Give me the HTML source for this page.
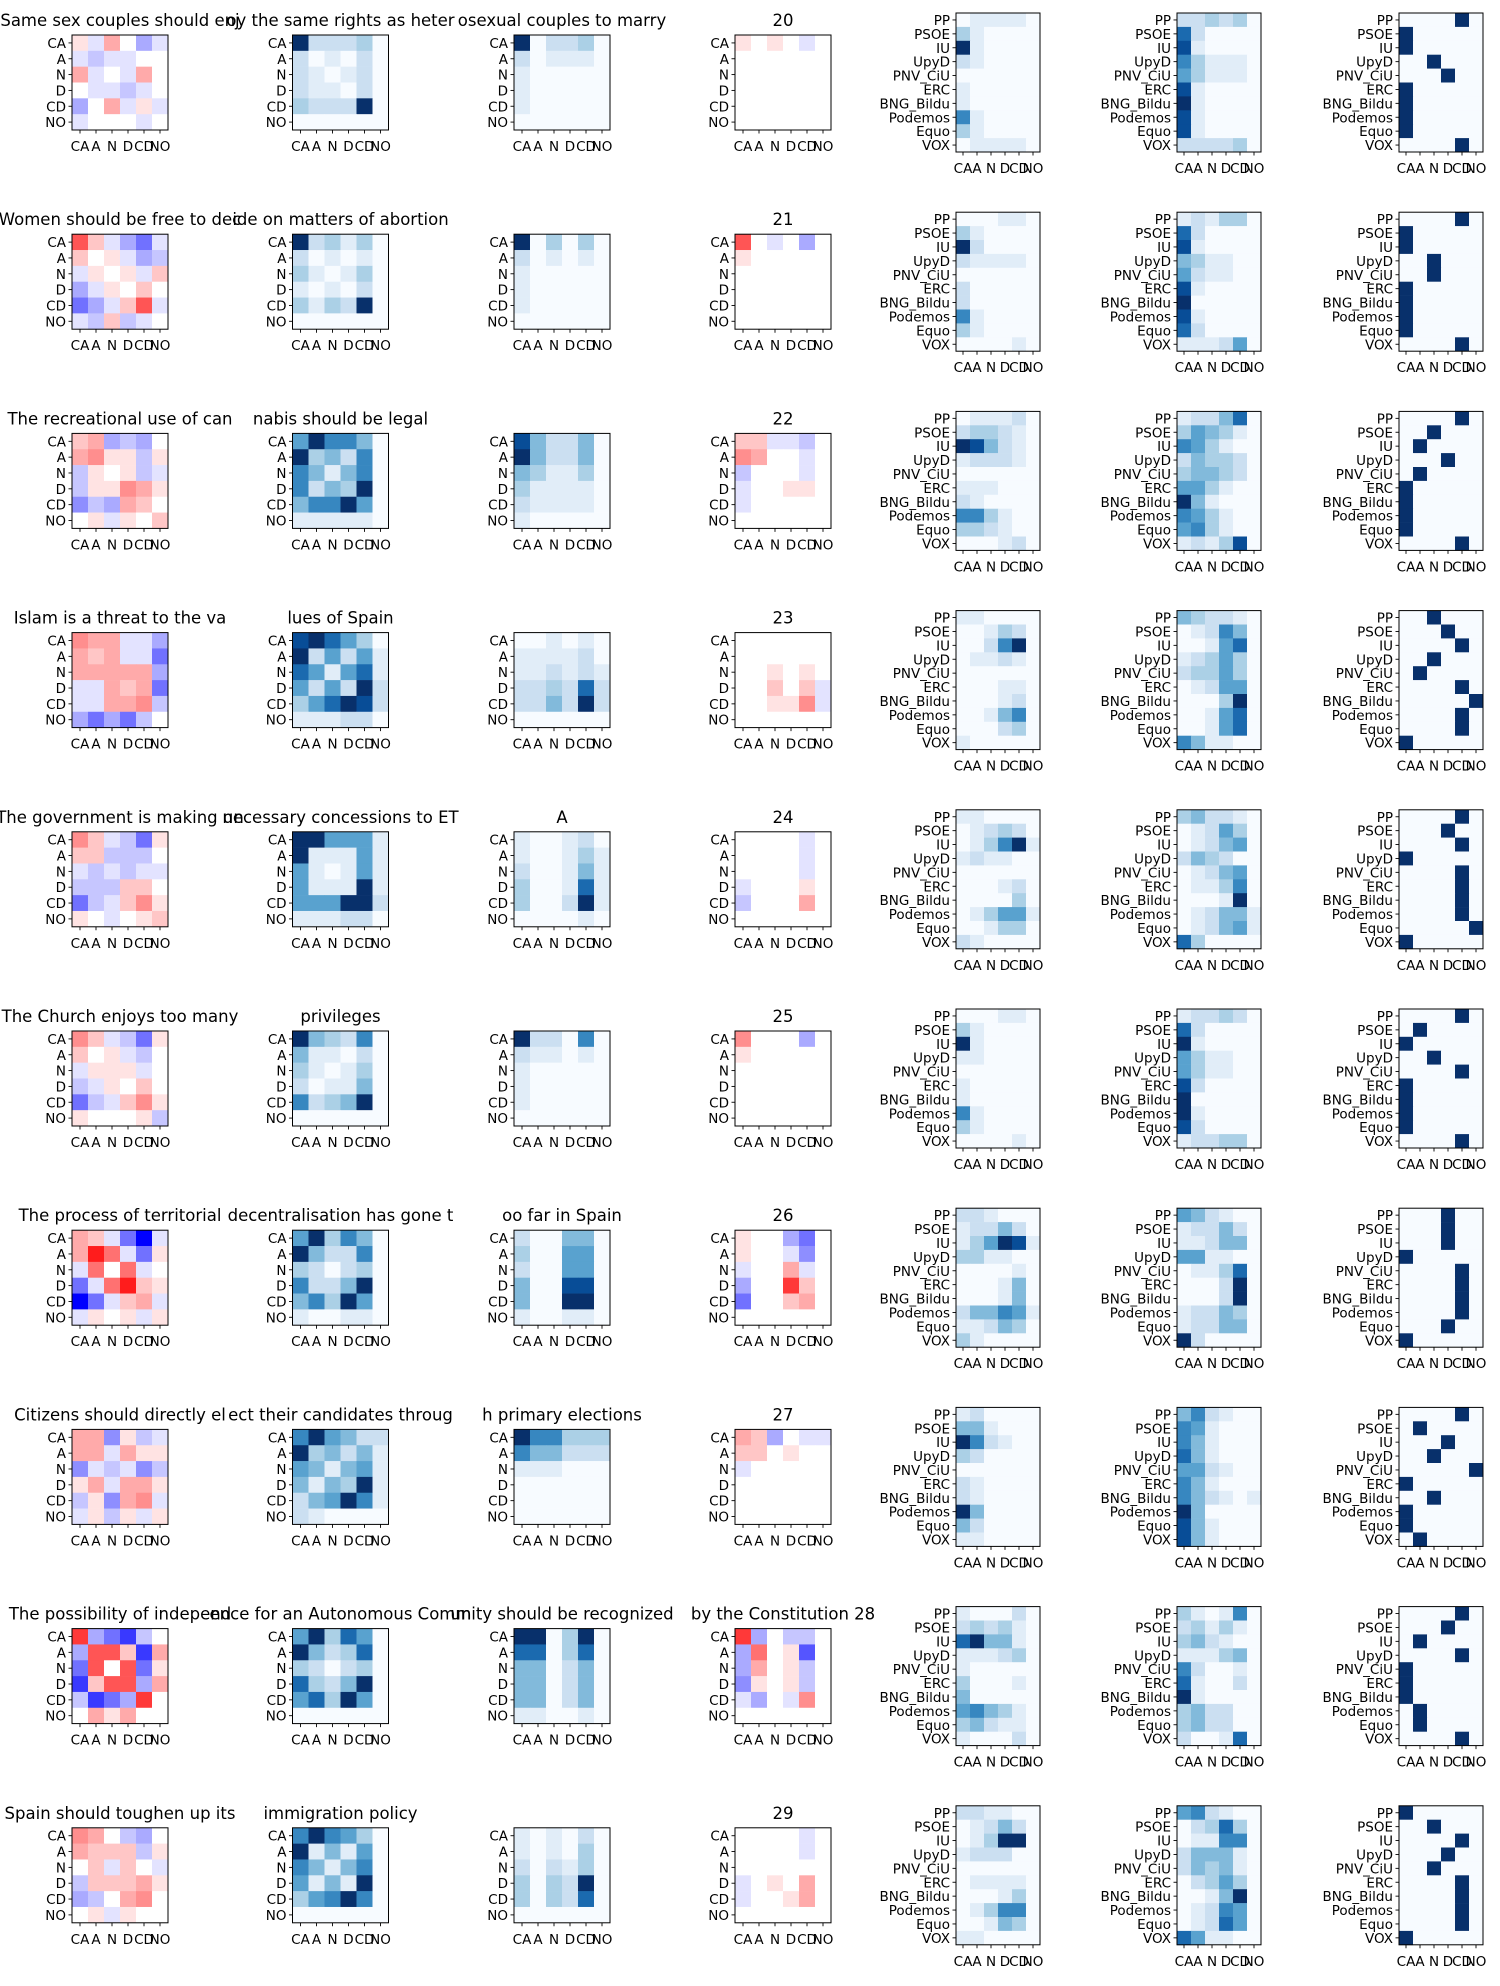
<!DOCTYPE html>
<html><head><meta charset="utf-8"><title>Heatmap grid</title>
<style>
html,body{margin:0;padding:0;background:#fff;}
svg{display:block;font-family:"DejaVu Sans","Liberation Sans",sans-serif;}
</style></head>
<body>
<svg id="chart" width="1500" height="1986" viewBox="0 0 1500 1986" xmlns="http://www.w3.org/2000/svg"></svg>
<script>
// ---- data ----
const answerLabels = ["CA","A","N","D","CD","NO"];
const partyLabels = ["PP","PSOE","IU","UpyD","PNV_CiU","ERC","BNG_Bildu","Podemos","Equo","VOX"];
const titleParts = [
 ["Same sex couples should enj","oy the same rights as heter","osexual couples to marry","20"],
 ["Women should be free to dec","ide on matters of abortion","","21"],
 ["The recreational use of can","nabis should be legal","","22"],
 ["Islam is a threat to the va","lues of Spain","","23"],
 ["The government is making un","necessary concessions to ET","A","24"],
 ["The Church enjoys too many ","privileges","","25"],
 ["The process of territorial ","decentralisation has gone t","oo far in Spain","26"],
 ["Citizens should directly el","ect their candidates throug","h primary elections","27"],
 ["The possibility of independ","ence for an Autonomous Comm","unity should be recognized ","by the Constitution 28"],
 ["Spain should toughen up its"," immigration policy","","29"]
];
// diverging panel 1 (digits = red +, letters a-i = blue -)
const divA = [
 "1a30ca abaa00 3a0a30 0aaba0 c03a1a a000a0",
 "62acea 201acb a101a2 ca1020 eca26a ab2ba0",
 "23cbc0 3411b1 b101ba b11431 dbc320 01a102",
 "433aac 323aae 33333c aa323e aa334b ceceb0",
 "42abe1 22bbb0 ababaa bbb220 eba241 10a012",
 "42abe1 201ab0 a111a0 ba1020 eba241 10001b",
 "32aeia 385ae1 a505a0 ea5821 iea23a a101a1",
 "33d1ba 33a311 dabadb 13a331 b1d34a a1b1a1",
 "7cegb0 c662g3 e606e1 g266c3 bgec70 031300",
 "430bc0 3222b1 02a20a b22231 cb0340 01a100"
];
const blueB = [
 "922230 201020 210120 211020 322290 000000",
 "923130 201010 310130 101020 313290 000000",
 "596640 934260 641460 624390 466950 111110",
 "897530 925251 751571 525292 357982 111220",
 "995551 911151 510151 511191 555992 111220",
 "943260 411020 310130 201140 623490 000000",
 "593640 942260 320230 622490 463950 100110",
 "695422 934241 541451 414391 245961 210000",
 "593750 942370 320230 732490 573950 000000",
 "696530 914150 641460 514190 356960 000000"
];
const blueC = [
 "902230 201110 100000 100000 100000 000000",
 "903030 201010 100000 100000 100000 000000",
 "842240 942240 431130 311110 211110 100000",
 "001010 111120 112121 223272 224292 000000",
 "100120 100131 200141 300171 300291 000010",
 "922060 211010 100000 100000 100000 000000",
 "200440 300550 200550 400880 400990 100110",
 "966333 644222 111000 000000 000000 000000",
 "990390 770370 440240 440240 440240 110010",
 "101020 101030 202130 303290 303270 000000"
];
const divD = [
 "1010a0 000000 000000 000000 000000 000000",
 "60a0c0 100000 000000 000000 000000 000000",
 "22aab0 4300a0 b000a0 a00110 a00000 000000",
 "000000 000000 001010 00202a 00114a 000000",
 "0000a0 0000a0 0000a0 a00010 b00030 000000",
 "4000c0 100000 000000 000000 000000 000000",
 "100ce0 100ad0 a003a0 c00720 e00230 000000",
 "32c0aa 220100 a00000 000000 000000 000000",
 "7c0bb0 c501f0 c301b0 d101b0 ac0a40 000000",
 "0000a0 0000a0 000000 a01030 a00130 000000"
];
const partyE = [
 "011110 310000 910000 210000 000000 100000 100000 610000 310000 011110",
 "000110 310000 920000 211110 000000 200000 200000 610000 310000 000010",
 "011120 233210 984210 122210 000000 111000 210000 663100 332100 000120",
 "110000 001320 002690 011210 000000 000110 000120 001460 000230 100000",
 "110000 012320 013691 121100 000000 000120 000030 013551 001330 210000",
 "000110 310000 910000 110000 000000 100000 100000 610000 310000 000010",
 "221000 122420 135981 331100 000010 000140 000140 244651 112430 310000",
 "120000 441000 962100 320000 000000 210000 210000 940000 420000 110000",
 "100020 232310 794410 111230 100000 300010 400000 564310 342110 100020",
 "221100 012420 013990 122200 000000 011110 000130 013660 001430 110000"
];
const partyF = [
 "223230 720000 810000 631110 531110 810000 910000 810000 810000 222230",
 "121330 720000 810000 431100 521100 810000 900000 810000 720000 111250",
 "122470 354310 653100 243320 344320 553100 941000 653100 563100 121380",
 "432210 012640 001570 123530 233530 012550 000390 001570 001570 641100",
 "342210 012530 012450 243200 012450 011360 000190 012441 012451 730000",
 "122320 720000 910000 531100 531100 820000 900000 910000 820000 122330",
 "542100 122420 112440 551100 011370 000290 000290 122430 122440 920000",
 "462100 651000 641000 741000 552100 641000 642101 940000 841000 841000",
 "310160 231310 342100 111340 620010 710020 910000 342200 342200 200170",
 "562100 023730 011660 244410 243410 023530 001490 012650 012750 751100"
];
const argmaxG = [
 "4002300004",
 "4002200004",
 "4213100004",
 "2342145440",
 "4340444450",
 "4102400004",
 "3330444430",
 "4132502001",
 "4314000114",
 "0243244440"
];
// ---- helpers ----
const blueStops=[[247,251,255],[222,235,247],[198,219,239],[158,202,225],[107,174,214],[66,146,198],[33,113,181],[8,81,156],[8,48,107]];
function bluesColor(t){t=Math.max(0,Math.min(1,t));const p=t*8,i=Math.min(7,Math.floor(p)),f=p-i,a=blueStops[i],b=blueStops[i+1];
 return "rgb("+a.map((v,k)=>Math.round(v+(b[k]-v)*f)).join(",")+")";}
function bwrColor(v){v=Math.max(-1,Math.min(1,v));if(v<0){const c=Math.round(255*(1+v));return "rgb("+c+","+c+",255)";}
 const c=Math.round(255*(1-v));return "rgb(255,"+c+","+c+")";}
function decodeBlue(s,nr,nc){const rows=s.split(" ");const out=[];for(let r=0;r<nr;r++){const row=[];const t=rows[r]||"";for(let c=0;c<nc;c++){const ch=t[c]||"0";row.push(parseInt(ch)/9);}out.push(row);}return out;}
function decodeDiv(s,nr,nc){const rows=s.split(" ");const out=[];for(let r=0;r<nr;r++){const row=[];const t=rows[r]||"";for(let c=0;c<nc;c++){const ch=t[c]||"0";let v;
 if(ch>="0"&&ch<="9")v=parseInt(ch)/9;else v=-(ch.charCodeAt(0)-96)/9;row.push(v);}out.push(row);}return out;}
function decodeArg(s,nr,nc){const out=[];for(let r=0;r<nr;r++){const row=[];const k=parseInt(s[r]);for(let c=0;c<nc;c++)row.push(c===k?1:0);out.push(row);}return out;}

const NS="http://www.w3.org/2000/svg";
const svg=document.getElementById("chart");
function el(tag,attrs,parent){const e=document.createElementNS(NS,tag);for(const k in attrs)e.setAttribute(k,attrs[k]);(parent||svg).appendChild(e);return e;}

const rowTop0=35, rowTopParty0=13, rowPitch=199.2;
const smallLefts=[72,292.5,514,735], smallW=96, smallH=95;
const partyLefts=[956,1177,1399], partyW=84, partyH=139;
const tickFont=13.5, titleFont=16.5;

function drawPanel(g,x,y,w,h,vals,colorFn,yLabels,nm){
 const nr=vals.length,nc=vals[0].length,cw=w/nc,chh=h/nr;
 for(let r=0;r<nr;r++)for(let c=0;c<nc;c++){
  const rc=el("rect",{x:(x+c*cw).toFixed(2),y:(y+r*chh).toFixed(2),width:(cw+0.3).toFixed(2),height:(chh+0.3).toFixed(2),fill:colorFn(vals[r][c])},g);
  
  
 }
 const fr=el("rect",{x:x,y:y,width:w,height:h,fill:"none",stroke:"#000","stroke-width":1},g);
 
 
 for(let c=0;c<nc;c++){const cx=x+(c+0.5)*cw;
  el("line",{x1:cx,y1:y+h,x2:cx,y2:y+h+3.5,stroke:"#000","stroke-width":0.9},g);
  const t=el("text",{x:cx,y:y+h+21,"font-size":tickFont,"text-anchor":"middle",fill:"#000"},g);t.textContent=answerLabels[c];
  
  
 }
 for(let r=0;r<nr;r++){const cy=y+(r+0.5)*chh;
  el("line",{x1:x-3.5,y1:cy,x2:x,y2:cy,stroke:"#000","stroke-width":0.9},g);
  const t=el("text",{x:x-6,y:cy+5,"font-size":tickFont,"text-anchor":"end",fill:"#000"},g);t.textContent=yLabels[r];
  
  
 }
}

for(let r=0;r<10;r++){
 const g=el("g",{});
 
 
 const ty=rowTop0+r*rowPitch, py=rowTopParty0+r*rowPitch;
 const small=[decodeDiv(divA[r],6,6),decodeBlue(blueB[r],6,6),decodeBlue(blueC[r],6,6),decodeDiv(divD[r],6,6)];
 const fns=[bwrColor,bluesColor,bluesColor,bwrColor];
 for(let k=0;k<4;k++){
  drawPanel(g,smallLefts[k],ty,smallW,smallH,small[k],fns[k],answerLabels,'answer-panel-'+(k+1));
  if(titleParts[r][k]){
   const t=el("text",{x:smallLefts[k]+smallW/2,y:ty-9,"font-size":titleFont,"text-anchor":"middle",fill:"#000","xml:space":"preserve"},g);
   t.textContent=titleParts[r][k];
   
   
  }
 }
 const party=[decodeBlue(partyE[r],10,6),decodeBlue(partyF[r],10,6),decodeArg(argmaxG[r],10,6)];
 for(let k=0;k<3;k++){
  drawPanel(g,partyLefts[k],py,partyW,partyH,party[k],bluesColor,partyLabels,'party-panel-'+(k+1));
 }
}
</script>
</body></html>
